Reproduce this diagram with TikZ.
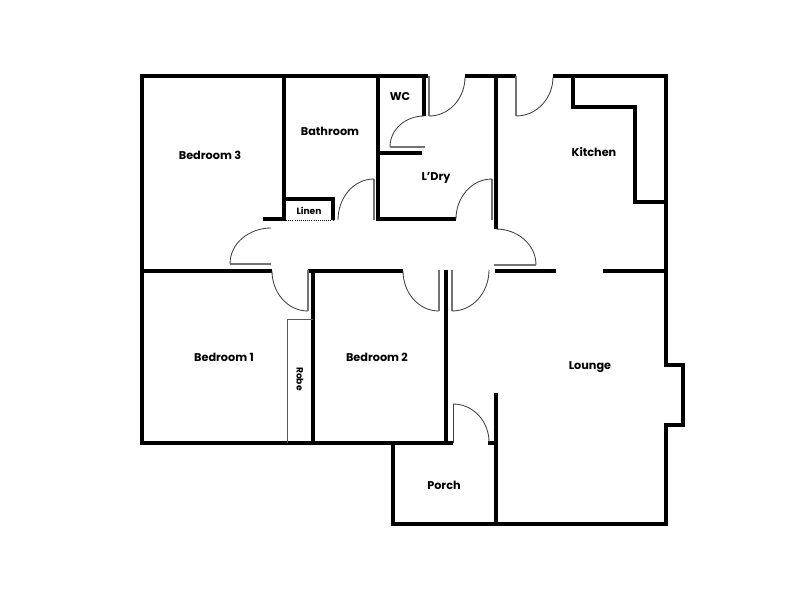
\documentclass[tikz,border=0pt]{standalone}
\usepackage{fontspec}
\setmainfont{Poppins}
\tikzset{
  wall/.style={black,line width=2.35pt,line cap=butt,line join=miter},
  leaf/.style={black!55,line width=1pt},
  swing/.style={black!75,line width=0.6pt},
  fitted/.style={black!65,line width=0.7pt},
  room/.style={font=\bfseries\fontsize{8}{10}\selectfont,inner sep=0pt},
  smallroom/.style={font=\bfseries\fontsize{6.5}{8}\selectfont,inner sep=0pt}
}
\begin{document}
\begin{tikzpicture}[x=0.25mm,y=-0.25mm]
\useasboundingbox (0,0) rectangle (800,600);
% outer walls
\draw[wall] (428,76) -- (142,76) -- (142,443) -- (453,443);
\draw[wall] (465,76) -- (516,76);
\draw[wall] (553,76) -- (666,76) -- (666,365) -- (683,365) -- (683,425) -- (666,425) -- (666,524) -- (393,524) -- (393,443);
\draw[wall] (488,443) -- (496,443);
% inner walls
\draw[wall] (284,76) -- (284,219) -- (263,219);
\draw[wall] (284,199) -- (333,199) -- (333,220);
\draw[wall] (456,219) -- (378,219) -- (378,76);
\draw[wall] (424,76) -- (424,116);
\draw[wall] (378,153) -- (422,153);
\draw[wall] (496,76) -- (496,229);
\draw[wall] (496,393) -- (496,524);
\draw[wall] (573,76) -- (573,107) -- (635,107) -- (635,202) -- (666,202);
\draw[wall] (142,271) -- (272,271);
\draw[wall] (403,271) -- (308,271);
\draw[wall] (313,271) -- (313,443);
\draw[wall] (446,270) -- (446,443);
\draw[wall] (495,271) -- (556,271);
\draw[wall] (603,271) -- (666,271);
% linen and robe
\draw[black,line width=0.5pt,densely dotted] (284,220) -- (333,220);
\draw[fitted] (287,443) -- (287,319) -- (313,319);
% doors
\draw[leaf] (374,179) -- (374,220);
\draw[swing] (374,179) to[out=180,in=90] (338,220);
\draw[leaf] (429,76) -- (429,116);
\draw[swing] (429,116) to[out=0,in=-90] (465,77);
\draw[swing] (424,116) to[out=180,in=90] (390,147);
\draw[leaf] (390,147) -- (425,147);
\draw[leaf] (492,179) -- (492,220);
\draw[swing] (492,179) to[out=180,in=90] (456,219);
\draw[leaf] (516,76) -- (516,116);
\draw[swing] (516,116) to[out=0,in=-90] (553,77);
\draw[swing] (496,229) to[out=0,in=90] (536,265);
\draw[leaf] (494,265) -- (536,265);
\draw[swing] (271,228) to[out=180,in=90] (230,264);
\draw[leaf] (230,264) -- (271,264);
\draw[swing] (272,271) to[out=-90,in=180] (308,311);
\draw[leaf] (308,270) -- (308,311);
\draw[swing] (403,271) to[out=-90,in=180] (439,311);
\draw[leaf] (439,270) -- (439,311);
\draw[leaf] (452,270) -- (452,311);
\draw[swing] (452,311) to[out=0,in=-90] (489,270);
\draw[swing] (453,404) to[out=0,in=90] (489,442);
\draw[swing] (453,404) -- (453,443);
% room names
\node[room] (bedthree) at (210,155) {Bedroom 3};
\node[room] (bathroom) at (330,131) {Bathroom};
\node[room] (wc) at (400,97) {WC};
\node[room] (ldry) at (436,178) {L’Dry};
\node[room] (kitchen) at (594,152) {Kitchen};
\node[smallroom] (linen) at (309,211) {Linen};
\node[room] (bedone) at (224,357) {Bedroom 1};
\node[room] (bedtwo) at (377,357) {Bedroom 2};
\node[smallroom,rotate=-90] (robe) at (300,379) {Robe};
\node[room] (lounge) at (590,367) {Lounge};
\node[room] (porch) at (444,485) {Porch};
\end{tikzpicture}
\end{document}
